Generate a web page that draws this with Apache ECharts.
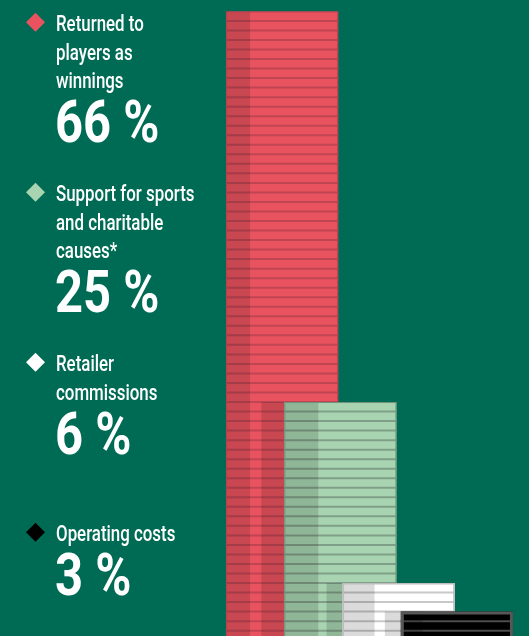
<!DOCTYPE html>
<html>
<head>
<meta charset="utf-8">
<script src="https://cdn.jsdelivr.net/npm/echarts@6/dist/echarts.min.js"></script>
<style>
  html, body { margin: 0; padding: 0; background: #006B54; overflow: hidden; }
  #chart { width: 529px; height: 636px; }
</style>
</head>
<body>
<div id="chart"></div>
<script>
// Where each euro goes
const categories = [
  'Returned to\nplayers as\nwinnings',
  'Support for sports\nand charitable\ncauses*',
  'Retailer\ncommissions',
  'Operating costs'
];
const shares = [66, 25, 6, 3];
const percentLabels = shares.map(v => v + ' %');

// Styling per stack: face colour, outline, unit stripes
const palette = [
  { fill: '#E9535F', border: '#B8414C', stripe: '#C04552', bw: 1 },
  { fill: '#A8D4B1', border: '#6F9279', stripe: '#809F88', bw: 1 },
  { fill: '#FFFFFF', border: '#BDBDBD', stripe: '#C8C8C8', bw: 1.5 },
  { fill: '#000000', border: '#575757', stripe: '#4D4D4D', bw: 3 }
];
const faceShade = [24, 34, 32, 22];   // darker left face of each stack
const castShadow = [0, 23, 16, 16];   // shadow thrown onto the stack behind
const SHADE = 'rgba(0,0,0,0.14)';
const FONT = 'Roboto, sans-serif';

function renderStack(params, api) {
  const i = params.dataIndex;
  const v = api.value(1);
  const base = api.coord([i, 0]);
  const top = api.coord([i, v]);
  const w = api.size([1, 0])[0] * 1.925;
  const x0 = base[0] - w / 2;
  const h = base[1] - top[1];
  const st = palette[i];
  const children = [];
  if (castShadow[i] > 0) {
    children.push({ type: 'rect',
      shape: { x: x0 - castShadow[i], y: top[1], width: castShadow[i], height: h },
      style: { fill: SHADE } });
  }
  children.push({ type: 'rect', shape: { x: x0, y: top[1], width: w, height: h },
    style: { fill: st.fill } });
  // one stripe per percentage unit
  for (let u = 1; u < v; u++) {
    const y = api.coord([i, u])[1];
    children.push({ type: 'line', shape: { x1: x0, y1: y, x2: x0 + w, y2: y },
      style: { stroke: st.stripe, lineWidth: 2 } });
  }
  children.push({ type: 'rect', shape: { x: x0, y: top[1], width: faceShade[i], height: h },
    style: { fill: SHADE } });
  const b = st.bw / 2;
  children.push({ type: 'rect',
    shape: { x: x0 + b, y: top[1] + b, width: w - st.bw, height: h - st.bw },
    style: { fill: 'none', stroke: st.border, lineWidth: st.bw } });
  return { type: 'group', children };
}

// Key on the left: diamond, wrapped name, big percentage (condensed type)
const keyGraphics = [];
categories.forEach((name, k) => {
  const b = 31 + 170 * k;
  const lines = name.split('\n').length;
  const cy = b - 8.7;
  keyGraphics.push({ type: 'polygon',
    shape: { points: [[35.5, cy - 9.5], [45, cy], [35.5, cy + 9.5], [26, cy]] },
    style: { fill: palette[k].fill } });
  keyGraphics.push({ type: 'text', x: 56, y: b - 20, scaleX: 0.75,
    style: { text: name, font: '500 22.5px ' + FONT, fill: '#ffffff',
      lineHeight: 28.7, verticalAlign: 'top' } });
  keyGraphics.push({ type: 'text', x: 55, y: b + 28.7 * (lines - 1) + 54.5 - 15.5, scaleX: 0.815,
    style: { text: percentLabels[k], font: 'bold 60px ' + FONT, fill: '#ffffff',
      verticalAlign: 'middle' } });
});

const chart = echarts.init(document.getElementById('chart'), null, { renderer: 'canvas' });
chart.setOption({
  backgroundColor: '#006B54',
  animation: false,
  grid: { left: 253, right: 43, top: 11.4, height: 628.8, outerBoundsMode: 'none', containLabel: false },
  xAxis: { type: 'category', data: categories, show: false },
  yAxis: { type: 'value', min: 0, max: 66, show: false },
  series: [{
    type: 'custom',
    clip: false,
    renderItem: renderStack,
    encode: { x: 0, y: 1 },
    data: shares.map((v, i) => [i, v])
  }],
  graphic: keyGraphics
});
</script>
</body>
</html>
